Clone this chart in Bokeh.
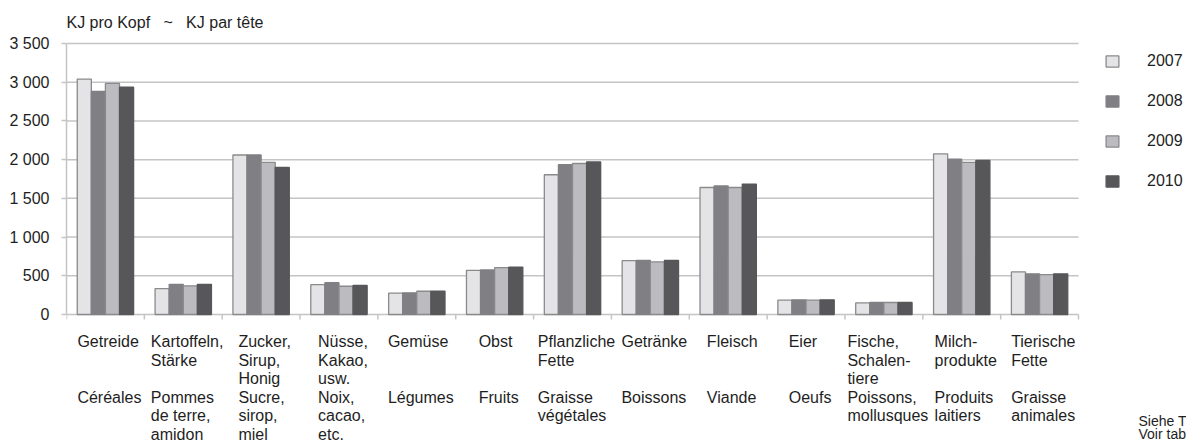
from bokeh.plotting import figure
from bokeh.models import (Range1d, FixedTicker, Label, Legend, LegendItem)
from bokeh.embed import file_html
from bokeh.resources import INLINE

# ---------------- data ----------------
years = ["2007", "2008", "2009", "2010"]
cats_de = [
    ["Getreide"],
    ["Kartoffeln,", "Stärke"],
    ["Zucker,", "Sirup,", "Honig"],
    ["Nüsse,", "Kakao,", "usw."],
    ["Gemüse"],
    ["Obst"],
    ["Pflanzliche", "Fette"],
    ["Getränke"],
    ["Fleisch"],
    ["Eier"],
    ["Fische,", "Schalen-", "tiere"],
    ["Milch-", "produkte"],
    ["Tierische", "Fette"],
]
cats_fr = [
    ["Céréales"],
    ["Pommes", "de terre,", "amidon"],
    ["Sucre,", "sirop,", "miel"],
    ["Noix,", "cacao,", "etc."],
    ["Légumes"],
    ["Fruits"],
    ["Graisse", "végétales"],
    ["Boissons"],
    ["Viande"],
    ["Oeufs"],
    ["Poissons,", "mollusques"],
    ["Produits", "laitiers"],
    ["Graisse", "animales"],
]
v2007 = [3040, 335, 2060, 385, 275, 570, 1805, 695, 1640, 185, 150, 2075, 550]
v2008 = [2880, 390, 2060, 410, 280, 575, 1935, 700, 1660, 190, 155, 2005, 525]
v2009 = [2985, 370, 1965, 365, 300, 605, 1950, 680, 1640, 185, 155, 1965, 515]
v2010 = [2935, 390, 1900, 375, 300, 610, 1970, 700, 1685, 190, 155, 1990, 525]
y_ticks = [0, 500, 1000, 1500, 2000, 2500, 3000, 3500]
y_tick_labels = ["0", "500", "1 000", "1 500", "2 000", "2 500", "3 000", "3 500"]
NB = "\u00a0"
title_text = "KJ pro Kopf" + NB * 3 + "~" + NB * 3 + "KJ par tête"
note_lines = ["Siehe T", "Voir tab"]

series = [v2007, v2008, v2009, v2010]
fills = ["#e4e4e6", "#808084", "#bcbcc0", "#57575a"]
lines = ["#8a8a8c", "#808084", "#8a8a8c", "#57575a"]

FONT = "Liberation Sans"
TXT = "#1e1e1e"
GRID = "#c4c4c4"

# Arial / Liberation Sans advance widths (1/1000 em)
_W = dict(zip("abcdefghijklmnopqrstuvwxyz",
              [556, 556, 500, 556, 556, 278, 556, 556, 222, 222, 500, 222, 833,
               556, 556, 556, 556, 333, 500, 278, 556, 500, 722, 500, 500, 500]))
_W.update(dict(zip("ABCDEFGHIJKLMNOPQRSTUVWXYZ",
                   [667, 667, 722, 722, 667, 611, 778, 722, 278, 500, 667, 556, 833,
                    722, 778, 667, 778, 722, 667, 611, 722, 667, 944, 667, 667, 611])))
_W.update({" ": 278, ",": 278, ".": 278, "-": 333, "ä": 556, "ü": 556, "é": 556})


def text_w(s, size=16):
    return sum(_W.get(ch, 556) for ch in s) * size / 1000.0


# ---------------- layout (pixels inside the figure) ----------------
FIG_W, FIG_H = 1186, 441
LEFT = 66            # x of the value axis
PLOT_R = 1078        # right end of the category area
TOP_PX = 43          # y of 3500
ZERO_PX = 314        # y of 0
n = len(cats_de)
ymax = y_ticks[-1]
x_ppu = (PLOT_R - LEFT) / n
y_upp = ymax / (ZERO_PX - TOP_PX)
x_end = (FIG_W - LEFT) / x_ppu
y_start = -(FIG_H - ZERO_PX) * y_upp
y_end = ymax + TOP_PX * y_upp

p = figure(width=FIG_W, height=FIG_H, output_backend="svg", toolbar_location=None,
           x_range=Range1d(0, x_end), y_range=Range1d(y_start, y_end),
           x_axis_location=None,
           min_border_left=LEFT, min_border_right=0, min_border_top=0,
           min_border_bottom=0)
p.outline_line_color = None
p.background_fill_color = "white"
p.border_fill_color = "white"
p.xgrid.visible = False
p.ygrid.visible = False

# y axis
p.yaxis.ticker = FixedTicker(ticks=y_ticks)
p.yaxis.bounds = (0, ymax)
p.yaxis.major_label_overrides = {t: l for t, l in zip(y_ticks, y_tick_labels)}
p.yaxis.major_label_text_font = FONT
p.yaxis.major_label_text_font_size = "16px"
p.yaxis.major_label_text_color = TXT
p.yaxis.axis_line_color = GRID
p.yaxis.axis_line_width = 1.5
p.yaxis.major_tick_line_color = GRID
p.yaxis.major_tick_line_width = 1.5
p.yaxis.major_tick_out = 5
p.yaxis.major_tick_in = 0
p.yaxis.minor_tick_line_color = None
p.yaxis.major_label_standoff = 12

# horizontal grid lines over the category area (0 line = category axis)
p.segment(x0=[0] * len(y_ticks), x1=[n] * len(y_ticks), y0=y_ticks, y1=y_ticks,
          line_color=GRID, line_width=1.5)
# category boundary ticks below the 0 line
bounds_x = list(range(n + 1))
p.segment(x0=bounds_x, x1=bounds_x, y0=[0] * (n + 1), y1=[-5 * y_upp] * (n + 1),
          line_color=GRID, line_width=1.5)

# bars
bw = 0.181
centers = [i + 0.5 for i in range(n)]
renderers = []
for k, vals in enumerate(series):
    xs = [c + (k - 1.5) * bw for c in centers]
    r = p.vbar(x=xs, top=vals, width=bw, bottom=0,
               fill_color=fills[k], line_color=lines[k], line_width=1.3)
    renderers.append(r)

# title
p.add_layout(Label(x=0, y=ymax, y_offset=21, text=title_text, text_font=FONT,
                   text_font_size="16px", text_color=TXT,
                   text_baseline="alphabetic", text_align="left"))

# category labels (German block, then French block)
row0 = 27.0
row_step = 18.5
for i in range(n):
    allines = cats_de[i] + cats_fr[i]
    box = max(text_w(s) for s in allines)
    xo = -box / 2 + 4
    for j, s in enumerate(cats_de[i]):
        p.add_layout(Label(x=centers[i], y=0, x_offset=xo,
                           y_offset=-(row0 + j * row_step), text=s,
                           text_font=FONT, text_font_size="16px", text_color=TXT,
                           text_align="left", text_baseline="alphabetic"))
    for j, s in enumerate(cats_fr[i]):
        p.add_layout(Label(x=centers[i], y=0, x_offset=xo,
                           y_offset=-(row0 + (j + 3) * row_step), text=s,
                           text_font=FONT, text_font_size="16px", text_color=TXT,
                           text_align="left", text_baseline="alphabetic"))

# footnote (cut at the right edge, as in the source)
for j, s in enumerate(note_lines):
    p.add_layout(Label(x=n, y=0, x_offset=60, y_offset=-(106 + j * 13), text=s,
                       text_font=FONT, text_font_size="14px", text_color=TXT,
                       text_align="left", text_baseline="alphabetic"))

# legend
legend = Legend(items=[LegendItem(label=y, renderers=[r]) for y, r in zip(years, renderers)],
                location=(1038 - 0, FIG_H - 190), orientation="vertical",
                glyph_width=16, glyph_height=14, label_height=14, label_standoff=27,
                spacing=22, padding=0, margin=0, border_line_color=None,
                background_fill_alpha=0, label_text_font=FONT,
                label_text_font_size="16px", label_text_color=TXT)
p.add_layout(legend, "center")

open("out.html", "w").write(file_html(p, INLINE))
